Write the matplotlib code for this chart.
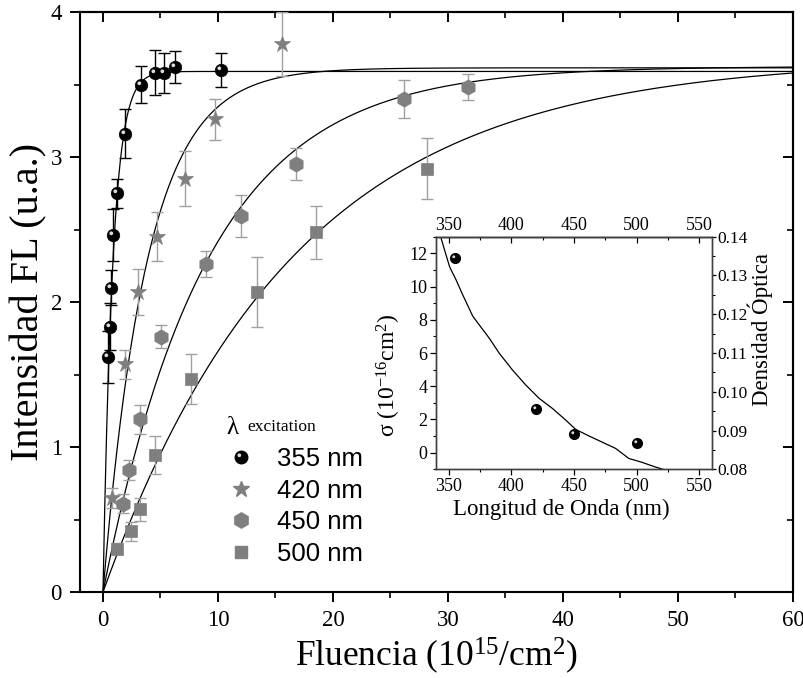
import numpy as np
import matplotlib
matplotlib.use('Agg')
import matplotlib.pyplot as plt
from matplotlib.lines import Line2D
from matplotlib.path import Path
from matplotlib.ticker import MultipleLocator, FormatStrFormatter
from matplotlib.legend_handler import HandlerTuple

# ---------------- data ----------------
f355 = [0.47, 0.58, 0.73, 0.90, 1.25, 1.92, 3.28, 4.50, 5.30, 6.23, 10.3]
i355 = [1.62, 1.83, 2.10, 2.46, 2.75, 3.16, 3.50, 3.58, 3.58, 3.62, 3.60]
e355 = [0.18, 0.16, 0.12, 0.18, 0.10, 0.17, 0.13, 0.155, 0.14, 0.11, 0.115]

f420 = [0.82, 1.91, 3.04, 4.73, 7.10, 9.74, 15.54]
i420 = [0.65, 1.57, 2.07, 2.45, 2.85, 3.26, 3.78]
e420 = [0.07, 0.10, 0.16, 0.17, 0.19, 0.14, 0.22]

f450 = [1.77, 2.26, 3.22, 5.02, 8.93, 12.03, 16.76, 26.2, 31.77]
i450 = [0.61, 0.84, 1.19, 1.76, 2.26, 2.59, 2.95, 3.40, 3.485]
e450 = [0.065, 0.07, 0.10, 0.08, 0.09, 0.145, 0.11, 0.13, 0.09]

f500 = [1.19, 2.41, 3.22, 4.50, 7.69, 13.43, 18.5, 28.2]
i500 = [0.30, 0.42, 0.57, 0.945, 1.47, 2.07, 2.48, 2.92]
e500 = [0.04, 0.065, 0.08, 0.13, 0.17, 0.24, 0.18, 0.21]

labels = ['355 nm', '420 nm', '450 nm', '500 nm']

# inset: cross sections (10^-16 cm^2) and optical density spectrum
wl_sigma = [355, 420, 450, 500]
sigma = [11.7, 2.6, 1.1, 0.6]
fit_amp = [3.59, 3.615, 3.625, 3.68]   # saturation level of each fit

od_wl = [340.0, 343.7, 346.8, 350.8, 352.1, 356.1, 361.3, 369.3, 374.6, 382.5,
         390.5, 401.0, 411.7, 422.2, 432.8, 443.4, 451.3, 461.9, 472.5, 483.1,
         493.7, 504.2, 514.8, 524.0, 530.0]
od_val = [0.1430, 0.1400, 0.1366, 0.1323, 0.1314, 0.1288, 0.1250, 0.1195, 0.1172, 0.1138,
          0.1099, 0.1056, 0.1017, 0.0983, 0.0957, 0.0927, 0.0903, 0.0886, 0.0870, 0.0854,
          0.0828, 0.0818, 0.0806, 0.0797, 0.0790]

# ---------------- style ----------------
SERIF = ['Liberation Serif', 'DejaVu Serif']
SANS = ['Liberation Sans', 'DejaVu Sans']
plt.rcParams['font.family'] = SERIF
plt.rcParams['mathtext.fontset'] = 'custom'
plt.rcParams['mathtext.rm'] = 'Liberation Serif'
plt.rcParams['mathtext.it'] = 'Liberation Serif:italic'

GRAY = '#7f7f7f'
EGRAY = '#a0a0a0'
HL = '#dcdcdc'

fig = plt.figure(figsize=(8.04, 6.78), dpi=100)
W, H = 804, 678
AX_L, AX_R, AX_T, AX_B = 80, 793, 12, 592
ax = fig.add_axes([AX_L / W, 1 - AX_B / H, (AX_R - AX_L) / W, (AX_B - AX_T) / H])


def axx(px):
    return (px - AX_L) / (AX_R - AX_L)


def axy(py):
    return (AX_B - py) / (AX_B - AX_T)


ax.set_xlim(-2, 60)
ax.set_ylim(0, 4)

# fit curves
F = np.linspace(0, 60, 1200)
for s, a in zip(sigma, fit_amp):
    ax.plot(F, a * (1 - np.exp(-0.1 * s * F)), color='black', lw=0.9, zorder=2)

# highlight marker for sphere look (offset circle)
hl_path = Path.circle(center=(-0.35, 0.35), radius=0.3)
HL_FRAC = 0.65
ms_ball = 9.0

# 355 series: black spheres
ax.errorbar(f355, i355, yerr=e355, fmt='none', ecolor='black', elinewidth=1.0,
            capsize=4, capthick=1.0, zorder=3)
ax.plot(f355, i355, 'o', ms=ms_ball, mfc='black', mec='black', mew=0.5, zorder=4)
ax.plot(f355, i355, ls='none', marker=hl_path, ms=ms_ball * HL_FRAC, mfc=HL, mec='none', zorder=5)

# gray series
for fx, iy, ey, mk, ms in [(f420, i420, e420, '*', 12),
                           (f450, i450, e450, 'h', 11),
                           (f500, i500, e500, 's', 8)]:
    ax.errorbar(fx, iy, yerr=ey, fmt='none', ecolor=EGRAY, elinewidth=1.0,
                capsize=4, capthick=1.0, zorder=3)
    ax.plot(fx, iy, ls='none', marker=mk, ms=ms, mfc=GRAY, mec=GRAY, mew=0.5, zorder=4)

# axes styling
for sp in ax.spines.values():
    sp.set_linewidth(1.5)
ax.xaxis.set_major_locator(MultipleLocator(10))
ax.xaxis.set_minor_locator(MultipleLocator(5))
ax.yaxis.set_major_locator(MultipleLocator(1))
ax.yaxis.set_minor_locator(MultipleLocator(0.5))
ax.tick_params(which='major', direction='out', length=7, width=1.4, labelsize=16.5, pad=6)
ax.tick_params(which='minor', direction='out', length=4, width=1.2)

top = ax.secondary_xaxis('top')
top.xaxis.set_major_locator(MultipleLocator(10))
top.xaxis.set_minor_locator(MultipleLocator(5))
top.tick_params(which='major', direction='in', length=7, width=1.4, labeltop=False)
top.tick_params(which='minor', direction='in', length=4, width=1.2)
right = ax.secondary_yaxis('right')
right.yaxis.set_major_locator(MultipleLocator(1))
right.yaxis.set_minor_locator(MultipleLocator(0.5))
right.tick_params(which='major', direction='in', length=7, width=1.4, labelright=False)
right.tick_params(which='minor', direction='in', length=4, width=1.2)
for sec in (top, right):
    for sp in sec.spines.values():
        sp.set_linewidth(1.5)

ax.set_xlabel('Fluencia (10$^{15}$/cm$^{2}$)', fontsize=25.5)
ax.xaxis.set_label_coords(0.5, axy(636))
ax.set_ylabel('Intensidad FL (u.a.)', fontsize=29)
ax.yaxis.set_label_coords(axx(47), 0.5)

# legend
h355 = (Line2D([], [], ls='none', marker='o', ms=ms_ball, mfc='black', mec='black'),
        Line2D([], [], ls='none', marker=hl_path, ms=ms_ball * HL_FRAC, mfc=HL, mec='none'))
h420 = Line2D([], [], ls='none', marker='*', ms=12, mfc=GRAY, mec=GRAY)
h450 = Line2D([], [], ls='none', marker='h', ms=11, mfc=GRAY, mec=GRAY)
h500 = Line2D([], [], ls='none', marker='s', ms=8, mfc=GRAY, mec=GRAY)
leg = ax.legend([h355, h420, h450, h500], labels, loc='upper left',
                bbox_to_anchor=(axx(228), axy(447)),
                frameon=False, prop={'family': SANS, 'size': 18.5},
                handler_map={tuple: HandlerTuple(ndivide=1, pad=0)},
                handlelength=1.0, handletextpad=0.9, labelspacing=0.30,
                borderaxespad=0, borderpad=0)
ax.text(axx(226), axy(428), 'λ', transform=ax.transAxes,
        fontsize=18, va='center', ha='left')
ax.text(axx(247), axy(427), 'excitation', transform=ax.transAxes,
        fontsize=12.5, va='center', ha='left')

# ---------------- inset ----------------
IN_L, IN_R, IN_T, IN_B = 436, 712, 236.7, 469.3
axi = fig.add_axes([IN_L / W, 1 - IN_B / H, (IN_R - IN_L) / W, (IN_B - IN_T) / H])
axi.set_xlim(340, 560)
axi.set_ylim(-1, 13)
axo = axi.twinx()
axo.set_ylim(0.08, 0.14)
axo.plot(od_wl, od_val, color='black', lw=0.9, zorder=2)
axi.set_zorder(axo.get_zorder() + 1)
axi.patch.set_visible(False)
ms_in = 7.0
axi.plot(wl_sigma, sigma, 'o', ms=ms_in, mfc='black', mec='black', zorder=4)
axi.plot(wl_sigma, sigma, ls='none', marker=hl_path, ms=ms_in * HL_FRAC, mfc=HL, mec='none', zorder=5)

for a_ in (axi, axo):
    for sp in a_.spines.values():
        sp.set_linewidth(1.0)
        sp.set_color('#404040')
axi.xaxis.set_major_locator(MultipleLocator(50))
axi.xaxis.set_minor_locator(MultipleLocator(25))
axi.yaxis.set_major_locator(MultipleLocator(2))
axi.yaxis.set_minor_locator(MultipleLocator(1))
axi.tick_params(which='major', direction='out', length=4, width=0.9, labelsize=13, pad=2)
axi.tick_params(which='minor', direction='out', length=2.5, width=0.8)
axo.yaxis.set_major_locator(MultipleLocator(0.01))
axo.yaxis.set_minor_locator(MultipleLocator(0.005))
axo.yaxis.set_major_formatter(FormatStrFormatter('%.2f'))
axo.tick_params(which='major', direction='out', length=3, width=0.9, labelsize=12.5, pad=1)
axo.tick_params(which='minor', direction='out', length=2, width=0.8)
ti = axi.secondary_xaxis('top')
ti.xaxis.set_major_locator(MultipleLocator(50))
ti.xaxis.set_minor_locator(MultipleLocator(25))
ti.tick_params(which='major', direction='in', length=4, width=0.9, labelsize=13, pad=2)
ti.tick_params(which='minor', direction='in', length=2.5, width=0.8)
for sp in ti.spines.values():
    sp.set_linewidth(1.0)
    sp.set_color('#404040')


def inx(px):
    return (px - IN_L) / (IN_R - IN_L)


def iny(py):
    return (IN_B - py) / (IN_B - IN_T)


axi.set_xlabel('Longitud de Onda (nm)', fontsize=16.5)
axi.xaxis.set_label_coords(inx(561), iny(499))
axi.set_ylabel('σ (10$^{-16}$cm$^{2}$)', fontsize=17)
axi.yaxis.set_label_coords(inx(403), iny(375))
axo.set_ylabel('Densidad Óptica', fontsize=16.5)
axo.yaxis.set_label_coords(inx(748), iny(330))

fig.savefig('out.png', dpi=100)
